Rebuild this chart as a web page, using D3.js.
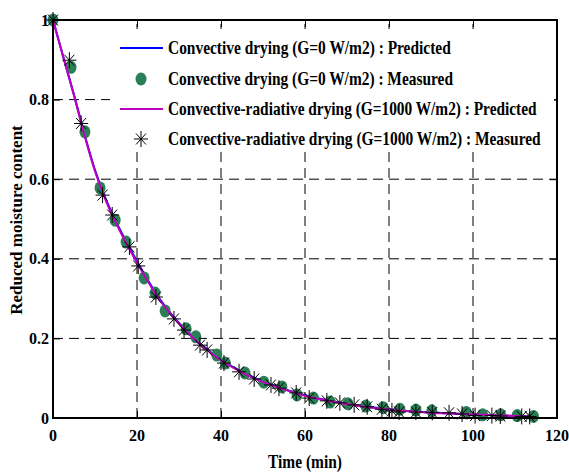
<!DOCTYPE html>
<html><head><meta charset="utf-8">
<script src="https://cdn.jsdelivr.net/npm/d3@7"></script>
<style>body{margin:0;background:#fff}svg{display:block}text{font-family:"Liberation Serif","Times New Roman",serif;font-weight:bold;fill:#000}</style>
</head><body><svg id="c" width="569" height="474"></svg>
<script>
const timePred = [0,2.5,5,7.5,10,12.5,15,17.5,20,22.5,25,27.5,30,32.5,35,37.5,40,45,50,55,60,65,70,75,80,85,90,95,100,105,110,114];
const convPred = [1,0.905,0.812,0.713,0.623,0.552,0.494,0.442,0.394,0.348,0.305,0.270,0.239,0.212,0.187,0.166,0.147,0.116,0.092,0.073,0.057,0.045,0.036,0.028,0.022,0.017,0.014,0.011,0.009,0.007,0.005,0.004];
const radPred  = [1,0.905,0.810,0.710,0.620,0.548,0.490,0.438,0.390,0.345,0.302,0.268,0.237,0.210,0.185,0.164,0.145,0.114,0.090,0.072,0.056,0.044,0.035,0.027,0.021,0.017,0.013,0.011,0.009,0.007,0.005,0.004];
const convMeasT = [0,4.3,7.6,11.2,14.8,17.4,21.7,24.3,26.7,31.7,34,39,41,45.7,50.2,54.5,58.1,62,66,70.2,74.5,78.6,82.6,86.4,90.2,98.4,102.3,106.6,110.5,114.4];
const convMeasV = [1,0.881,0.719,0.578,0.497,0.442,0.352,0.314,0.269,0.224,0.204,0.158,0.138,0.113,0.090,0.078,0.058,0.050,0.040,0.036,0.030,0.026,0.022,0.020,0.018,0.014,0.008,0.008,0.006,0.004];
const radMeasT = [0,3.9,6.7,11.8,14.1,18.2,20.3,24.5,28.8,31.2,35,36.7,40.7,44.3,47.9,51.9,53.8,57.9,61,65.2,68.3,71.7,74.8,78.3,80.7,82.4,86.4,90.3,94.3,97.4,100.5,104.5,106.5,111.6,113.5];
const radMeasV = [1,0.899,0.740,0.560,0.510,0.430,0.382,0.304,0.249,0.221,0.183,0.171,0.138,0.116,0.098,0.083,0.075,0.063,0.050,0.043,0.038,0.033,0.028,0.022,0.018,0.015,0.015,0.014,0.013,0.010,0.006,0.006,0.005,0.004,0.004];
const xTicks = [0,20,40,60,80,100,120];
const yTicks = [0,0.2,0.4,0.6,0.8,1];
const yTickLabels = ["0","0.2","0.4","0.6","0.8","1"];
const legendLabels = ["Convective drying (G=0 W/m2) : Predicted","Convective drying (G=0 W/m2) : Measured","Convective-radiative drying (G=1000 W/m2) : Predicted","Convective-radiative drying (G=1000 W/m2) : Measured"];
const xTitle = "Time (min)";
const yTitle = "Reduced moisture content";

const svg = d3.select("#c");
const L=53,R=557,T=20,B=418;
const x = d3.scaleLinear().domain([0,120]).range([L,R]);
const y = d3.scaleLinear().domain([0,1]).range([B,T]);
const BLUE="#0000ff", MAG="#bf00bf", GREEN="#2b7f57";

// grid
const grid = svg.append("g").attr("stroke","#000").attr("stroke-width",1).attr("stroke-dasharray","10,6");
xTicks.slice(1,-1).forEach(t=>grid.append("line").attr("x1",x(t)).attr("x2",x(t)).attr("y1",B).attr("y2",T));
yTicks.slice(1,-1).forEach(t=>grid.append("line").attr("y1",y(t)).attr("y2",y(t)).attr("x1",L).attr("x2",R));

// axes with inward ticks
const gx = svg.append("g").attr("transform",`translate(0,${B})`).call(d3.axisBottom(x).tickValues(xTicks).tickSize(-7).tickFormat(""));
const gxt = svg.append("g").attr("transform",`translate(0,${T})`).call(d3.axisTop(x).tickValues(xTicks).tickSize(-7).tickFormat(""));
const gy = svg.append("g").attr("transform",`translate(${L},0)`).call(d3.axisLeft(y).tickValues(yTicks).tickSize(-7).tickFormat(""));
const gyr = svg.append("g").attr("transform",`translate(${R},0)`).call(d3.axisRight(y).tickValues(yTicks).tickSize(-7).tickFormat(""));
[gx,gxt,gy,gyr].forEach(g=>{g.select(".domain").remove();g.selectAll("line").attr("stroke","#000").attr("stroke-width",1);});

// tick labels
svg.append("g").selectAll("text").data(xTicks).join("text")
  .attr("x",d=>x(d)).attr("y",441).attr("text-anchor","middle").attr("font-size",16).text(d=>d);
svg.append("g").selectAll("text").data(yTicks).join("text")
  .attr("x",49).attr("y",d=>y(d)+5.5).attr("text-anchor","end").attr("font-size",16).text((d,i)=>yTickLabels[i]);

// legend background
const lg = svg.append("g");
lg.append("rect").attr("x",110).attr("y",29).attr("width",444).attr("height",123).attr("fill","#fff");

// data
const line = d3.line().x((d,i)=>x(timePred[i])).y(d=>y(d)).curve(d3.curveMonotoneX);
svg.append("path").datum(convPred).attr("d",line).attr("fill","none").attr("stroke",BLUE).attr("stroke-width",2);
svg.append("g").selectAll("ellipse").data(convMeasV).join("ellipse")
  .attr("cx",(d,i)=>x(convMeasT[i])).attr("cy",d=>y(d)).attr("rx",5.5).attr("ry",6.5).attr("fill",GREEN);
svg.append("path").datum(radPred).attr("d",line).attr("fill","none").attr("stroke",MAG).attr("stroke-width",2);

function star(g,cx,cy){
  const s=g.append("g").attr("transform",`translate(${cx},${cy})`).attr("stroke","#000").attr("stroke-width",1);
  s.append("line").attr("x1",0).attr("x2",0).attr("y1",-8).attr("y2",8);
  s.append("line").attr("x1",-7).attr("x2",7).attr("y1",0).attr("y2",0);
  s.append("line").attr("x1",-5).attr("x2",5).attr("y1",-5.5).attr("y2",5.5);
  s.append("line").attr("x1",-5).attr("x2",5).attr("y1",5.5).attr("y2",-5.5);
}
const sg = svg.append("g");
radMeasV.forEach((v,i)=>star(sg,x(radMeasT[i]),y(v)));

// frame
svg.append("rect").attr("x",L).attr("y",T).attr("width",R-L).attr("height",B-T).attr("fill","none").attr("stroke","#000").attr("stroke-width",2);

// condensed text helper: scale horizontally to a target width
function ctext(g,str,fs,tx,ty,target,anchor,rot){
  const t=g.append("text").attr("font-size",fs).attr("text-anchor",anchor||"start").text(str);
  const w=t.node().getComputedTextLength();
  const k=Math.min(1,target/w);
  t.attr("transform",`translate(${tx},${ty})${rot?` rotate(${rot})`:""} scale(${k},1)`);
  return t;
}

// legend content
const rows=[48,79,109,139];
const widths=[283,285,369,373];
lg.raise();
lg.append("line").attr("x1",120).attr("x2",163).attr("y1",rows[0]).attr("y2",rows[0]).attr("stroke",BLUE).attr("stroke-width",2);
lg.append("ellipse").attr("cx",141).attr("cy",rows[1]).attr("rx",5.5).attr("ry",6.5).attr("fill",GREEN);
lg.append("line").attr("x1",120).attr("x2",163).attr("y1",rows[2]).attr("y2",rows[2]).attr("stroke",MAG).attr("stroke-width",2);
star(lg,141,rows[3]);
legendLabels.forEach((t,i)=>ctext(lg,t,18,168,rows[i]+6,widths[i]));

// axis titles
ctext(svg,xTitle,18,305,468,74,"middle");
ctext(svg,yTitle,17,22,220,246,"middle",-90);
</script></body></html>
